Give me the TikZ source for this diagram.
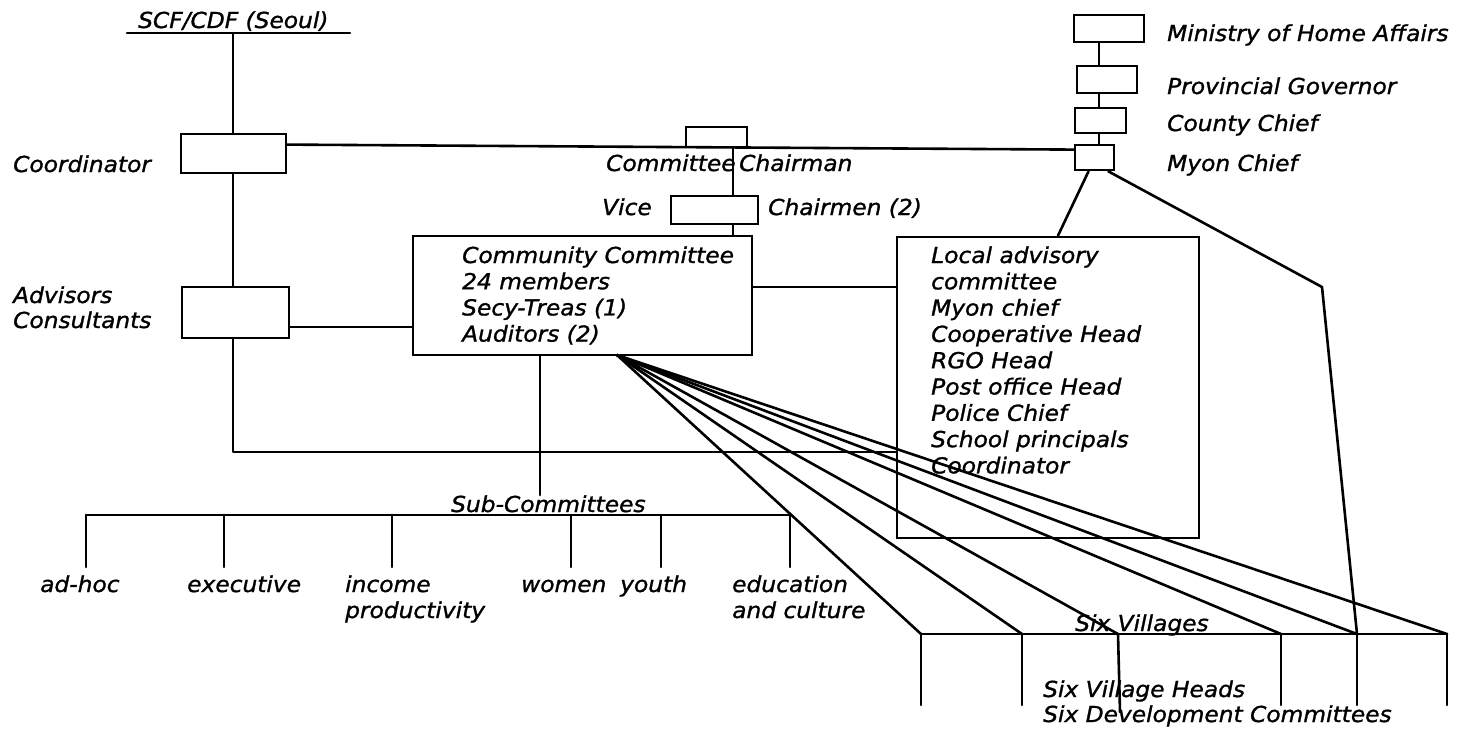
\documentclass[tikz,border=0pt]{standalone}
\usepackage{fontspec}
\newfontfamily\labfont{DejaVu Sans}[FakeStretch=1.06, FakeBold=1.2]
\usetikzlibrary{calc}
\begin{document}
\begin{tikzpicture}[x=1pt,y=-1pt,
  wire/.style={line width=2.6pt, line cap=round, line join=round},
  box/.style={draw, line width=2.8pt, inner sep=0pt},
  lbl/.style={anchor=base west, inner sep=0pt, font=\labfont\itshape\fontsize{22}{26}\selectfont}]

\fill[white] (0,0) rectangle (1483,731);
\useasboundingbox (0,0) rectangle (1483,731);

% ---- boxes ----
\node[box, minimum width=105pt, minimum height=39pt] (coord)  at (233.5,153.5) {};
\node[box, minimum width=107pt, minimum height=51pt] (adv)    at (235.5,312.5) {};
\node[box, minimum width=339pt, minimum height=119pt] (cc)    at (582.5,295.5) {};
\node[box, minimum width=302pt, minimum height=301pt] (local) at (1048,387.5) {};
\node[box, minimum width=61pt, minimum height=20pt] (chair)   at (716.5,137) {};
\node[box, minimum width=87pt, minimum height=28pt] (vice)    at (714.5,210) {};
\node[box, minimum width=70pt, minimum height=27pt] (mha)     at (1109,28.5) {};
\node[box, minimum width=60pt, minimum height=27pt] (prov)    at (1107,79.5) {};
\node[box, minimum width=51pt, minimum height=25pt] (county)  at (1100.5,120.5) {};
\node[box, minimum width=39pt, minimum height=25pt] (myon)    at (1094.5,157.5) {};

% ---- labels ----
\node[lbl] (scf)    at (138,28)  {SCF/CDF (Seoul)};
\node[lbl] (lcoord) at (13,172)  {Coordinator};
\node[lbl] (ladv)   at (13,303)  {Advisors};
\node[lbl] (lcons)  at (13,328)  {Consultants};
\node[lbl] (lcomm)  at (606,171) {Committee};
\node[lbl] (lchair) at (739,171) {Chairman};
\node[lbl] (lvice)  at (602,215) {Vice};
\node[lbl] (lvices) at (768,215) {Chairmen (2)};

\foreach \t [count=\i] in {Community Committee, 24 members, Secy-Treas (1), Auditors (2)}
  \node[lbl] (cct\i) at (462,{263+26.2*(\i-1)}) {\t};

\foreach \t [count=\i] in {Local advisory, committee, Myon chief, Cooperative Head,
    RGO Head, Post office Head, Police Chief, School principals, Coordinator}
  \node[lbl] (lat\i) at (931,{263+26.3*(\i-1)}) {\t};

\node[lbl] (lmha)    at (1167,41)  {Ministry of Home Affairs};
\node[lbl] (lprov)   at (1167,94)  {Provincial Governor};
\node[lbl] (lcounty) at (1167,131) {County Chief};
\node[lbl] (lmyon)   at (1167,171) {Myon Chief};

\node[lbl] (lsub)  at (451,512) {Sub-Committees};
\node[lbl] (sc1)   at (40,592)  {ad-hoc};
\node[lbl] (sc2)   at (187,592) {executive};
\node[lbl] (sc3)   at (345,592) {income};
\node[lbl] (sc3b)  at (345,618) {productivity};
\node[lbl] (sc4)   at (521,592) {women};
\node[lbl] (sc5)   at (620,592) {youth};
\node[lbl] (sc6)   at (732,592) {education};
\node[lbl] (sc6b)  at (732,618) {and culture};

\node[lbl] (lvil)   at (1075,631) {Six Villages};
\node[lbl] (lheads) at (1043,697) {Six Village Heads};
\node[lbl] (ldev)   at (1043,722) {Six Development Committees};

% ---- left spine ----
\coordinate (scfL) at (127,33);
\coordinate (scfR) at (350,33);
\coordinate (spL)  at (233,33);
\coordinate (corner) at (233,452);
\draw[wire] (scfL) -- (scfR);
\draw[wire] (spL) -- (spL |- coord.north);
\draw[wire] (coord.south -| spL) -- (adv.north -| spL);
\draw[wire] (adv.south -| spL) -- (corner) -- (corner -| local.west);

% coordinator to myon chief
\draw[wire] ($(coord.north east)+(0,12)$) -- ($(myon.north west)+(0,6)$);

% chairman / vice chairmen / committee
\coordinate (spC) at (733,0);
\draw[wire] (chair.south -| spC) -- (vice.north -| spC);
\draw[wire] (vice.south -| spC) -- (cc.north -| spC);

% side links
\coordinate (r327) at (0,327);
\coordinate (r287) at (0,287);
\draw[wire] (adv.east |- r327) -- (cc.west |- r327);
\draw[wire] (cc.east |- r287) -- (local.west |- r287);

% government chain
\coordinate (spG) at (1099,0);
\draw[wire] (mha.south -| spG) -- (prov.north -| spG);
\draw[wire] (prov.south -| spG) -- (county.north -| spG);
\draw[wire] (county.south -| spG) -- (myon.north -| spG);

% villages
\foreach \x [count=\i] in {921,1022,1118,1281,1357,1447} {
  \coordinate (v\i) at (\x,634);
  \coordinate (b\i) at (\x,705);
}
\draw[wire] (v1) -- (v6);
\foreach \i in {1,2,4,5,6} \draw[wire] (v\i) -- (b\i);
\draw[wire] (v3) -- ++(2,78);

% myon chief links
\coordinate (lx) at (1058,0);
\coordinate (bend) at (1322,287);
\draw[wire] ($(myon.south)+(-6,0)$) -- (local.north -| lx);
\draw[wire] ($(myon.south east)+(-7,0)$) -- (bend) -- (v5);

% fan from the committee to the villages
\coordinate (fan) at (617,355);
\foreach \i in {1,...,6} \draw[wire] (fan) -- (v\i);

% sub-committees
\coordinate (spS) at (540,0);
\draw[wire] (cc.south -| spS) -- (lsub.north -| spS);
\foreach \x [count=\i] in {86,224,392,571,661,790} {
  \coordinate (s\i) at (\x,515);
  \coordinate (t\i) at (\x,567);
}
\draw[wire] (s1) -- (s6);
\foreach \i in {1,...,6} \draw[wire] (s\i) -- (t\i);
\end{tikzpicture}
\end{document}
